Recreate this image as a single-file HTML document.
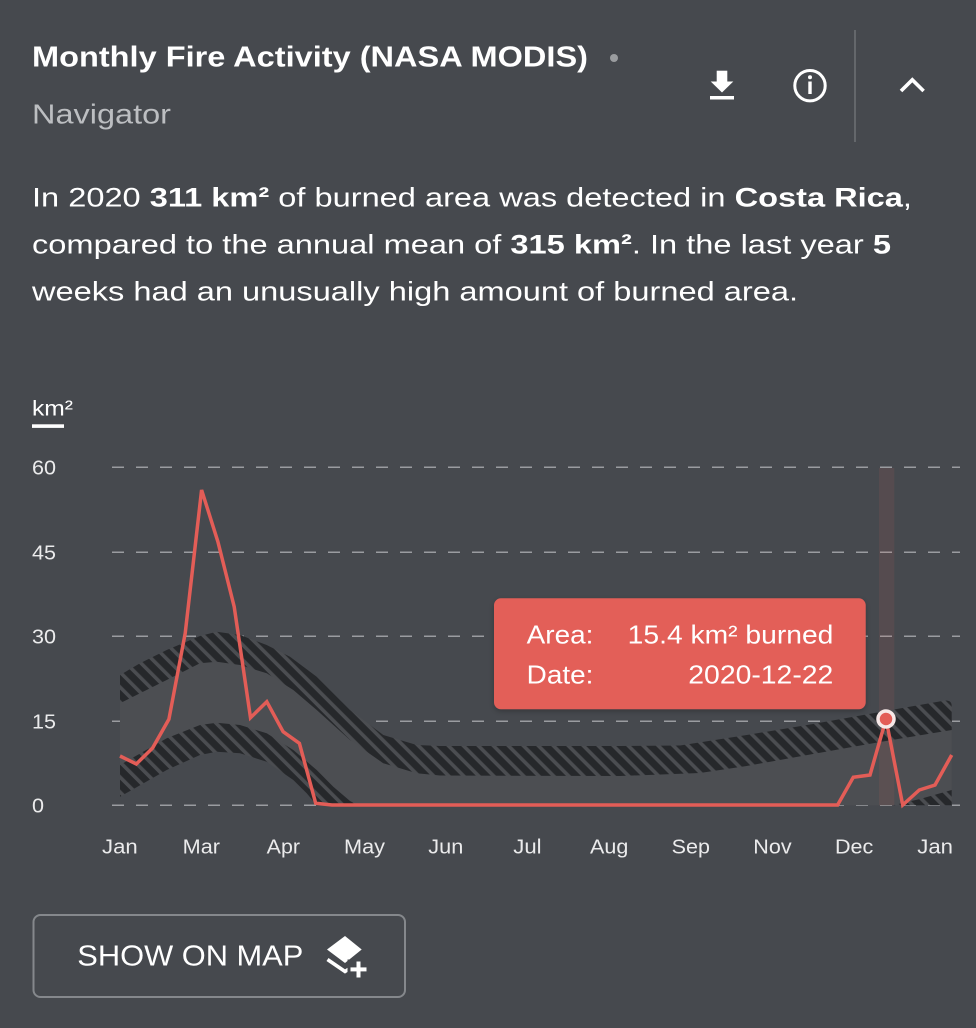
<!DOCTYPE html>
<html>
<head>
<meta charset="utf-8">
<style>
html,body{margin:0;padding:0;background:#46494e;width:976px;height:1028px;overflow:hidden;}
svg{display:block;}
text{font-family:"Liberation Sans",Arial,sans-serif;}
</style>
</head>
<body>
<svg width="976" height="1028" viewBox="0 0 976 1028" xmlns="http://www.w3.org/2000/svg">
  <defs>
    <pattern id="hatch" patternUnits="userSpaceOnUse" width="10" height="10.6" patternTransform="rotate(45)">
      <rect x="0" y="0" width="10" height="10.6" fill="#4b4d51"/>
      <rect x="0" y="0" width="10" height="7" fill="#26282b"/>
    </pattern>
    <filter id="sh" x="-10%" y="-10%" width="120%" height="130%">
      <feDropShadow dx="0" dy="2" stdDeviation="3" flood-color="#000" flood-opacity="0.25"/>
    </filter>
  </defs>

  <rect width="976" height="1028" fill="#46494e"/>

  <!-- Header -->
  <text x="32" y="66.7" font-size="28.5" font-weight="bold" fill="#ffffff" textLength="556" lengthAdjust="spacingAndGlyphs">Monthly Fire Activity (NASA MODIS)</text>
  <circle cx="614" cy="58" r="4" fill="#9a9c9f"/>
  <text x="32" y="123.3" font-size="28" fill="#bcbec1" textLength="139" lengthAdjust="spacingAndGlyphs">Navigator</text>

  <!-- download icon -->
  <rect x="716.7" y="70.7" width="10.6" height="11.5" fill="#fff"/>
  <polygon points="710.7,81.5 733.3,81.5 722,92.5" fill="#fff"/>
  <rect x="710" y="96" width="24" height="3.5" fill="#fff"/>
  <!-- info icon -->
  <circle cx="810" cy="85.7" r="15.2" fill="none" stroke="#fff" stroke-width="3"/>
  <circle cx="810" cy="77.2" r="2" fill="#fff"/>
  <rect x="808.3" y="81.5" width="3.4" height="12.5" fill="#fff"/>
  <!-- divider -->
  <rect x="854" y="30" width="2" height="112" fill="#64676b"/>
  <!-- chevron -->
  <polyline points="901,91 912.3,79.8 923.6,91" fill="none" stroke="#fff" stroke-width="3.6"/>

  <!-- Paragraph -->
  <text x="32" y="206.5" font-size="27" fill="#ffffff" textLength="880" lengthAdjust="spacingAndGlyphs">In 2020 <tspan font-weight="bold">311 km²</tspan> of burned area was detected in <tspan font-weight="bold">Costa Rica</tspan>,</text>
  <text x="32" y="253.5" font-size="27" fill="#ffffff" textLength="859" lengthAdjust="spacingAndGlyphs">compared to the annual mean of <tspan font-weight="bold">315 km²</tspan>. In the last year <tspan font-weight="bold">5</tspan></text>
  <text x="32" y="300.5" font-size="27" fill="#ffffff" textLength="766" lengthAdjust="spacingAndGlyphs">weeks had an unusually high amount of burned area.</text>

  <!-- Chart unit -->
  <text x="32" y="415.5" font-size="21" fill="#ffffff" textLength="41" lengthAdjust="spacingAndGlyphs">km²</text>
  <rect x="32" y="424.3" width="32" height="3.6" fill="#ffffff"/>

  <!-- gridlines -->
  <g stroke="#9a9ca0" stroke-width="1.5" stroke-dasharray="12 12">
    <line x1="112" y1="467.3" x2="960" y2="467.3"/>
    <line x1="112" y1="552.3" x2="960" y2="552.3"/>
    <line x1="112" y1="636.3" x2="960" y2="636.3"/>
    <line x1="112" y1="721.3" x2="960" y2="721.3"/>
    <line x1="112" y1="805.3" x2="960" y2="805.3"/>
  </g>

  <!-- y labels -->
  <g font-size="20" fill="#ebebec">
    <text x="32" y="474.3" textLength="24" lengthAdjust="spacingAndGlyphs">60</text>
    <text x="32" y="559.3" textLength="24" lengthAdjust="spacingAndGlyphs">45</text>
    <text x="32" y="643.3" textLength="24" lengthAdjust="spacingAndGlyphs">30</text>
    <text x="32" y="728.3" textLength="24" lengthAdjust="spacingAndGlyphs">15</text>
    <text x="32" y="812.3" textLength="12" lengthAdjust="spacingAndGlyphs">0</text>
  </g>

  <!-- middle band fill -->
  <path d="M120,675 L140,663.3 L166.7,650 L200,636 L216.7,631.7 L240,635 L266.7,645 L290,656.7 L316.7,676.7 L350,710 L383.3,735 L416.7,745 L440,746 L620,746 L680,745.5 L746.7,735 L813,724 L880,712 L945,700.5 Q951.7,700 951.7,706 L951.7,805.3 L316.7,805.3 L306.7,793.3 L293.3,780 L266.7,761.7 L240,753.3 L216.7,751.7 L200,755 L166.7,770 L120,796.7 Z" fill="#4c4e52"/>

  <!-- highlight bar -->
  <rect x="879" y="468" width="15.3" height="337.3" fill="rgba(227,94,88,0.10)"/>

  <!-- upper hatched band -->
  <path d="M120,675 L140,663.3 L166.7,650 L200,636 L216.7,631.7 L240,635 L266.7,645 L290,656.7 L316.7,676.7 L350,710 L383.3,735 L416.7,745 L440,746 L620,746 L680,745.5 L746.7,735 L813,724 L880,712 L945,700.5 Q951.7,700 951.7,706 L951.7,730 L880,742 L813,754 L746.7,766 L700,773 L620,776 L440,775.5 L416.7,773.3 L383.3,763.3 L350,740 L316.7,710 L293.3,690 L266.7,673.3 L240,665 L216.7,661.7 L200,663.3 L166.7,680 L120,703.3 Z" fill="url(#hatch)"/>

  <!-- lower hatched band -->
  <path d="M120,765 L166.7,738.3 L200,725 L216.7,722.7 L240,725 L266.7,733.3 L293.3,750 L316.7,770 L333.3,786.7 L350,801 L358,805.3 L316.7,805.3 L306.7,793.3 L293.3,780 L266.7,761.7 L240,753.3 L216.7,751.7 L200,755 L166.7,770 L120,796.7 Z" fill="url(#hatch)"/>
  <path d="M893,805.3 L920,799 L951.7,790 L951.7,805.3 Z" fill="url(#hatch)"/>

  <!-- red line -->
  <polyline fill="none" stroke="#e35d57" stroke-width="3.5" stroke-linejoin="miter" points="
    120,756 136.3,764 152.6,748 168.9,719.3 185.2,633.3 201.6,490 217.9,541.7 234.2,606.7 250.5,717.7 266.8,701.7 283.1,731.7 299.4,743.3 315.7,803.3
    332,805 837.6,805 853.3,777.3 870,775 886,719 902.7,805 919.3,790 935,785 951.7,755"/>

  <!-- highlighted point -->
  <circle cx="886" cy="719" r="8" fill="#e35d57" stroke="#f6e8e7" stroke-width="3.5"/>

  <!-- tooltip -->
  <rect x="494" y="598.3" width="371.7" height="111" rx="7" fill="#e35e58" filter="url(#sh)"/>
  <g font-size="26" fill="#ffffff">
    <text x="526.7" y="643.3" textLength="66.7" lengthAdjust="spacingAndGlyphs">Area:</text>
    <text x="526.7" y="683.3" textLength="66.7" lengthAdjust="spacingAndGlyphs">Date:</text>
    <text x="627.7" y="643.3" textLength="205.7" lengthAdjust="spacingAndGlyphs">15.4 km² burned</text>
    <text x="688.3" y="683.3" textLength="145" lengthAdjust="spacingAndGlyphs">2020-12-22</text>
  </g>

  <!-- x labels -->
  <g font-size="20" fill="#ebebec">
    <text x="102" y="853.3" textLength="35.7" lengthAdjust="spacingAndGlyphs">Jan</text>
    <text x="182.7" y="853.3" textLength="37.3" lengthAdjust="spacingAndGlyphs">Mar</text>
    <text x="266.7" y="853.3" textLength="33.3" lengthAdjust="spacingAndGlyphs">Apr</text>
    <text x="344" y="853.3" textLength="41" lengthAdjust="spacingAndGlyphs">May</text>
    <text x="428.3" y="853.3" textLength="35" lengthAdjust="spacingAndGlyphs">Jun</text>
    <text x="513.3" y="853.3" textLength="28.3" lengthAdjust="spacingAndGlyphs">Jul</text>
    <text x="590" y="853.3" textLength="38.3" lengthAdjust="spacingAndGlyphs">Aug</text>
    <text x="671.7" y="853.3" textLength="38.3" lengthAdjust="spacingAndGlyphs">Sep</text>
    <text x="753.3" y="853.3" textLength="38.3" lengthAdjust="spacingAndGlyphs">Nov</text>
    <text x="835" y="853.3" textLength="38.3" lengthAdjust="spacingAndGlyphs">Dec</text>
    <text x="917.3" y="853.3" textLength="35.7" lengthAdjust="spacingAndGlyphs">Jan</text>
  </g>

  <!-- button -->
  <rect x="33.5" y="915" width="371.5" height="82" rx="7" fill="none" stroke="#85888c" stroke-width="2"/>
  <text x="77.3" y="965.7" font-size="29" fill="#ffffff" textLength="226" lengthAdjust="spacingAndGlyphs">SHOW ON MAP</text>
  <!-- layers icon -->
  <polygon points="345,936 361.7,949.5 345,963 327,949.5" fill="#fff"/>
  <polyline points="327.5,959.5 345,971.5 352,967" fill="none" stroke="#fff" stroke-width="3.6"/>
  <g>
    <rect x="347.5" y="959.5" width="20" height="20" fill="#46494e"/>
    <rect x="350.5" y="967.4" width="16" height="4" fill="#fff"/>
    <rect x="356.5" y="961.5" width="4" height="16" fill="#fff"/>
  </g>
</svg>
</body>
</html>
